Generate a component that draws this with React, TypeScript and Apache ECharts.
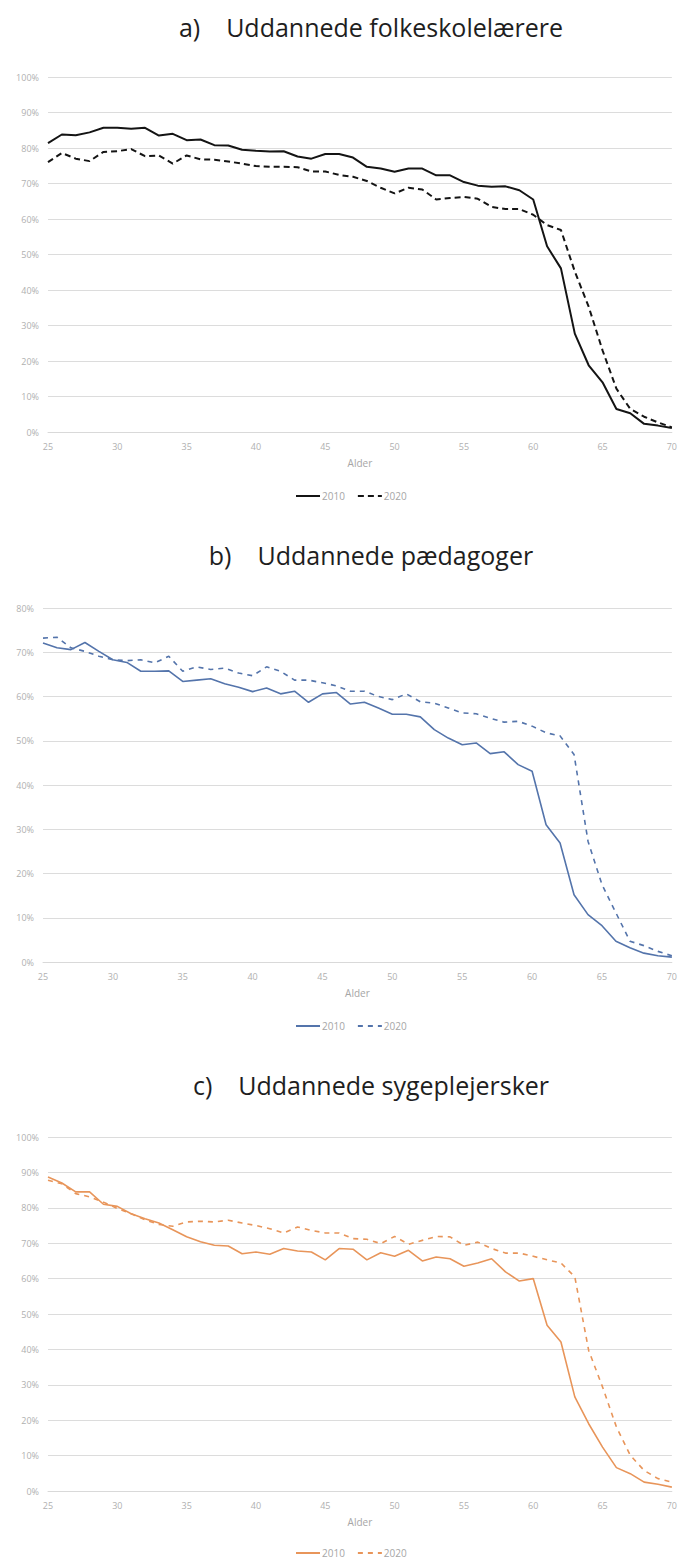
import React, { useEffect, useRef } from "react";
import * as echarts from "echarts";

const ages = [25, 26, 27, 28, 29, 30, 31, 32, 33, 34, 35, 36, 37, 38, 39, 40, 41, 42, 43, 44, 45, 46, 47, 48, 49, 50, 51, 52, 53, 54, 55, 56, 57, 58, 59, 60, 61, 62, 63, 64, 65, 66, 67, 68, 69, 70];

const xTicks = { min: 25, max: 70, interval: 5 };
const seriesYears = ["2010", "2020"];

const titles = ["a)\u00a0\u00a0\u00a0\u00a0Uddannede folkeskolelærere", "b)\u00a0\u00a0\u00a0\u00a0Uddannede pædagoger", "c)\u00a0\u00a0\u00a0\u00a0Uddannede sygeplejersker"];
const axisName = "Alder";

// a) Uddannede folkeskolelærere (%)
const a2010 = [81.4, 83.8, 83.6, 84.4, 85.7, 85.7, 85.4, 85.7, 83.5, 84.0, 82.2, 82.4, 80.8, 80.7, 79.5, 79.2, 79.0, 79.1, 77.6, 77.0, 78.3, 78.3, 77.3, 74.7, 74.2, 73.3, 74.2, 74.2, 72.3, 72.3, 70.4, 69.4, 69.1, 69.2, 68.1, 65.5, 52.3, 46.1, 27.7, 18.8, 14.0, 6.5, 5.3, 2.3, 1.8, 1.1];
const a2020 = [76.0, 78.6, 77.0, 76.3, 78.9, 79.1, 79.7, 77.7, 77.9, 75.6, 77.9, 76.8, 76.7, 76.2, 75.6, 74.9, 74.7, 74.7, 74.6, 73.4, 73.4, 72.4, 71.9, 70.7, 68.8, 67.2, 68.8, 68.3, 65.5, 65.9, 66.2, 65.7, 63.4, 62.8, 62.8, 61.2, 58.3, 56.9, 45.2, 35.3, 23.0, 12.2, 6.5, 4.3, 2.7, 1.3];

// b) Uddannede pædagoger (%)
const b2010 = [72.1, 71.0, 70.6, 72.2, 70.2, 68.3, 67.7, 65.7, 65.7, 65.8, 63.4, 63.7, 64.0, 62.9, 62.1, 61.1, 61.9, 60.6, 61.2, 58.7, 60.6, 60.9, 58.3, 58.7, 57.4, 56.0, 56.0, 55.4, 52.5, 50.6, 49.1, 49.5, 47.1, 47.5, 44.6, 43.1, 31.0, 26.9, 15.2, 10.7, 8.2, 4.7, 3.2, 2.0, 1.4, 1.1];
const b2020 = [73.2, 73.4, 71.0, 70.2, 69.1, 68.3, 68.1, 68.3, 67.6, 69.1, 65.7, 66.7, 66.1, 66.4, 65.3, 64.7, 66.7, 65.7, 63.7, 63.7, 63.1, 62.4, 61.2, 61.2, 60.0, 59.3, 60.6, 58.8, 58.5, 57.4, 56.3, 56.1, 55.1, 54.2, 54.4, 53.3, 51.8, 51.1, 46.9, 27.3, 17.5, 11.1, 4.7, 3.7, 2.4, 1.4];

// c) Uddannede sygeplejersker (%)
const c2010 = [88.7, 87.0, 84.5, 84.5, 81.0, 80.4, 78.3, 76.9, 75.7, 73.8, 71.8, 70.4, 69.4, 69.2, 67.0, 67.5, 66.9, 68.5, 67.8, 67.5, 65.3, 68.5, 68.3, 65.3, 67.3, 66.3, 68.0, 65.0, 66.1, 65.6, 63.5, 64.4, 65.6, 61.9, 59.3, 60.0, 46.8, 42.1, 26.6, 19.0, 12.4, 6.6, 4.9, 2.5, 1.9, 1.1];
const c2020 = [87.8, 86.8, 84.0, 83.1, 81.6, 79.8, 78.3, 76.6, 75.3, 74.8, 76.0, 76.2, 76.0, 76.5, 75.7, 75.0, 74.1, 72.9, 74.6, 73.6, 72.9, 72.9, 71.3, 71.1, 69.9, 71.9, 69.7, 70.8, 71.9, 71.8, 69.4, 70.3, 68.5, 67.2, 67.2, 66.3, 65.3, 64.4, 60.5, 39.7, 29.4, 18.1, 10.1, 5.8, 3.5, 2.5];

const yMaxes = [100, 80, 100];

const panels = [
  { key: "a", title: titles[0], color: "#141414", v2010: a2010, v2020: a2020, yMax: yMaxes[0], left: 48, top: 77, height: 355, titleY: 27, legendY: 493, width: 2, dash: [6, 4] },
  { key: "b", title: titles[1], color: "#5474ab", v2010: b2010, v2020: b2020, yMax: yMaxes[1], left: 43, top: 608, height: 354, titleY: 555, legendY: 1023, width: 1.6, dash: [5, 5] },
  { key: "c", title: titles[2], color: "#e8955a", v2010: c2010, v2020: c2020, yMax: yMaxes[2], left: 48, top: 1137, height: 354, titleY: 1085, legendY: 1550, width: 1.6, dash: [5, 5] },
];

const pairs = (vals: number[]) => ages.map((a, i) => [a, vals[i]]);

export default function App() {
  const ref = useRef<HTMLDivElement>(null);
  useEffect(() => {
    document.body.style.margin = "0";
    const chart = echarts.init(ref.current!, null, { renderer: "svg" });
    const grid: any[] = [];
    const xAxis: any[] = [];
    const yAxis: any[] = [];
    const series: any[] = [];
    const legend: any[] = [];
    const graphic: any[] = [];
    panels.forEach((p, i) => {
      grid.push({ left: p.left, right: 8, top: p.top, height: p.height, containLabel: false });
      xAxis.push({
        type: "value",
        gridIndex: i,
        min: xTicks.min,
        max: xTicks.max,
        interval: xTicks.interval,
        name: axisName,
        nameLocation: "middle",
        nameGap: 26,
        nameTextStyle: { color: "#a6a6a6", fontSize: 10, fontFamily: "Open Sans" },
        axisLine: { show: true, lineStyle: { color: "#d9d9d9", width: 1 } },
        axisTick: { show: false },
        splitLine: { show: false },
        axisLabel: { color: "#b0b0b0", fontSize: 9, margin: 10, fontFamily: "Open Sans" },
      });
      yAxis.push({
        type: "value",
        gridIndex: i,
        min: 0,
        max: p.yMax,
        interval: 10,
        axisLine: { show: false },
        axisTick: { show: false },
        splitLine: { show: true, lineStyle: { color: "#dcdcdc", width: 1 } },
        axisLabel: { color: "#b0b0b0", fontSize: 9, margin: 9, formatter: "{value}%", fontFamily: "Open Sans" },
      });
      seriesYears.forEach((yr, j) => {
        series.push({
          type: "line",
          name: `${p.key}:${yr}`,
          xAxisIndex: i,
          yAxisIndex: i,
          data: pairs(j === 0 ? p.v2010 : p.v2020),
          symbol: "none",
          lineStyle: { color: p.color, width: p.width, type: j === 0 ? "solid" : p.dash },
          itemStyle: { color: p.color },
        });
      });
      legend.push({
        data: seriesYears.map((yr) => `${p.key}:${yr}`),
        left: 290,
        top: p.legendY - 7,
        itemWidth: 24,
        itemHeight: 12,
        itemGap: 12,
        formatter: (n: string) => n.split(":")[1],
        itemStyle: { opacity: 0 },
        textStyle: { color: "#a6a6a6", fontSize: 10, fontFamily: "Open Sans", padding: [0, 0, 0, -3] },
        selectedMode: false,
      });
      graphic.push({
        type: "text",
        x: 371,
        y: p.titleY,
        style: {
          text: p.title,
          fill: "#1e1e1e",
          font: "25px 'Open Sans'",
          textAlign: "center",
          textVerticalAlign: "middle",
        },
      });
    });
    chart.setOption({
      animation: false,
      backgroundColor: "#ffffff",
      grid,
      xAxis,
      yAxis,
      series,
      legend,
      graphic,
    });
    return () => chart.dispose();
  }, []);
  return <div ref={ref} style={{ width: 680, height: 1560 }} />;
}
